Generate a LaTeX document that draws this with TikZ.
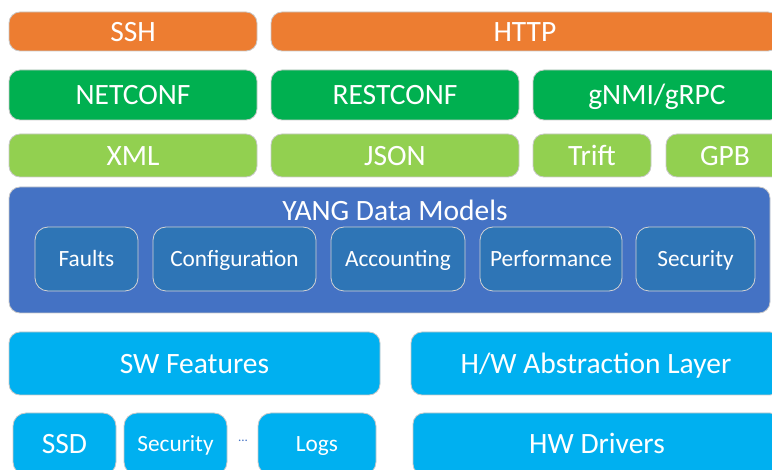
\documentclass[tikz,border=0pt]{standalone}
\usepackage{fontspec}
\setmainfont{Carlito}
\definecolor{protoOrange}{HTML}{ED7D31}
\definecolor{protoGreen}{HTML}{00B050}
\definecolor{encGreen}{HTML}{92D050}
\definecolor{yangBlue}{HTML}{4472C4}
\definecolor{modelBlue}{HTML}{2E75B6}
\definecolor{featCyan}{HTML}{00B0F0}
\definecolor{edgeGray}{HTML}{C8C8C8}
\tikzset{
  bigtext/.style={font=\fontsize{29.5}{31}\selectfont, text height=22pt, text depth=2pt},
  smalltext/.style={font=\fontsize{23.3}{25}\selectfont, text height=17pt, text depth=2.2pt},
  layerbox/.style={rectangle, rounded corners=11pt, draw=edgeGray, line width=0.8pt,
    text=white, inner sep=0pt, bigtext},
  modelbox/.style={layerbox, fill=modelBlue, draw=edgeGray!80, rounded corners=13pt, smalltext},
}
\begin{document}
\begin{tikzpicture}[x=1pt, y=-1pt]
\useasboundingbox (0,0) rectangle (772,470);
\clip (0,0) rectangle (772,470);
% transport layer
\node[layerbox, fill=protoOrange, minimum width=248pt, minimum height=39pt] (ssh) at (133,31.5) {SSH};
\node[layerbox, fill=protoOrange, minimum width=508pt, minimum height=39pt] (http) at (525,31.5) {HTTP};
% protocol layer
\node[layerbox, fill=protoGreen, minimum width=248pt, minimum height=50pt] (netconf) at (133,95) {NETCONF};
\node[layerbox, fill=protoGreen, minimum width=248pt, minimum height=50pt] (restconf) at (395,95) {RESTCONF};
\node[layerbox, fill=protoGreen, minimum width=248pt, minimum height=50pt] (gnmi) at (657,95) {gNMI/gRPC};
% encoding layer
\node[layerbox, fill=encGreen, minimum width=248pt, minimum height=43pt] (xml) at (133,155.5) {XML};
\node[layerbox, fill=encGreen, minimum width=248pt, minimum height=43pt] (json) at (395,155.5) {JSON};
\node[layerbox, fill=encGreen, minimum width=118pt, minimum height=43pt] (trift) at (592,155.5) {Trift};
\node[layerbox, fill=encGreen, minimum width=118pt, minimum height=43pt] (gpb) at (725,155.5) {GPB};
% data models
\node[layerbox, fill=yangBlue, minimum width=761pt, minimum height=126pt] (yang) at (389.5,250) {};
\node[text=white, inner sep=0pt, bigtext] (yangtitle) at (395,211) {YANG Data Models};
\node[modelbox, minimum width=103pt, minimum height=64pt] (faults) at (86.5,259) {Faults};
\node[modelbox, minimum width=163pt, minimum height=64pt] (config) at (234.5,259) {Configuration};
\node[modelbox, minimum width=134pt, minimum height=64pt] (acct) at (398,259) {Accounting};
\node[modelbox, minimum width=142pt, minimum height=64pt] (perf) at (551,259) {Performance};
\node[modelbox, minimum width=119pt, minimum height=64pt] (sec) at (695.5,259) {Security};
% platform layers
\node[layerbox, fill=featCyan, minimum width=371pt, minimum height=63pt] (swf) at (194.5,363.5) {SW Features};
\node[layerbox, fill=featCyan, minimum width=370pt, minimum height=63pt] (hal) at (596,363.5) {H/W Abstraction Layer};
\node[layerbox, fill=featCyan, minimum width=103pt, minimum height=62pt, rounded corners=13pt] (ssd) at (64.5,444) {SSD};
\node[layerbox, fill=featCyan, minimum width=103pt, minimum height=62pt, rounded corners=13pt,
  smalltext] (swsec) at (175.5,444) {Security};
\node[text=yangBlue, font=\fontsize{13}{14}\selectfont, inner sep=0pt] (dots) at (243,441) {...};
\node[layerbox, fill=featCyan, minimum width=118pt, minimum height=62pt, rounded corners=13pt,
  smalltext] (logs) at (317,444) {Logs};
\node[layerbox, fill=featCyan, minimum width=368pt, minimum height=62pt] (hwd) at (597,444) {HW Drivers};
\end{tikzpicture}
\end{document}
